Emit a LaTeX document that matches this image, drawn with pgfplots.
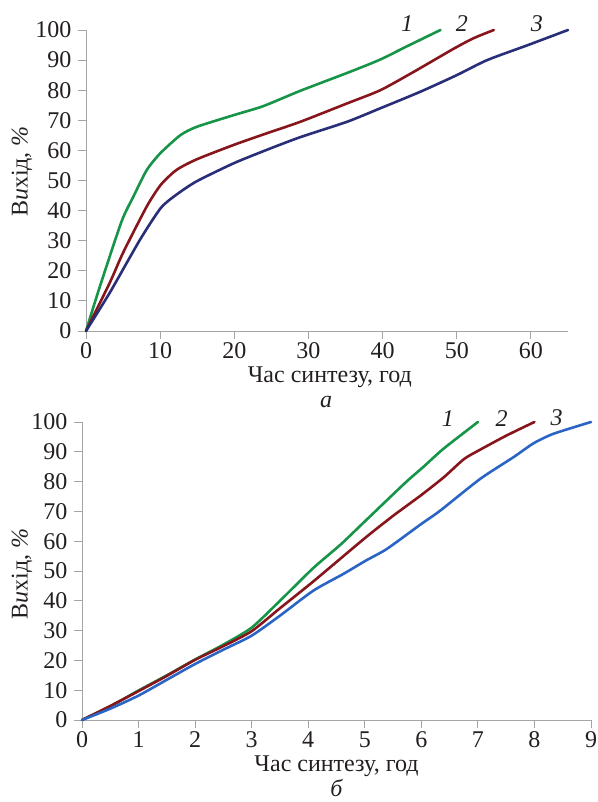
\documentclass[border=0pt]{standalone}
\usepackage{fontspec}
\setmainfont{Liberation Serif}
\usepackage{pgfplots}
\pgfplotsset{compat=1.18}
\definecolor{cgreen}{RGB}{22,148,72}
\definecolor{cred}{RGB}{135,22,28}
\definecolor{cnavy}{RGB}{40,46,120}
\definecolor{cblue}{RGB}{42,100,196}
\definecolor{axgray}{RGB}{165,165,165}
\definecolor{txt}{RGB}{35,31,32}
\tikzset{
  lbl/.style={font=\fontsize{24}{28}\selectfont, text=txt},
  ilbl/.style={font=\fontsize{24}{28}\selectfont\itshape, text=txt},
}
\pgfplotsset{
  mystyle/.style={
    scale only axis,
    axis x line=bottom, axis y line=left,
    axis line style={-, axgray, line width=0.9pt},
    tick style={axgray, line width=0.9pt},
    tick align=outside,
    major tick length=8pt,
    ymin=0, ymax=100, ytick={0,10,...,100},
    tick label style={font=\fontsize{24}{28}\selectfont, text=txt},
    yticklabel style={xshift=-3pt},
    /pgf/number format/assume math mode=true,
    clip=false,
    every axis plot/.append style={line width=2.6pt, line join=round, line cap=round, smooth, tension=0.4, no markers},
  },
}
\begin{document}
\begin{tikzpicture}
\useasboundingbox (0,0) rectangle (597pt,802pt);
% top panel
\begin{axis}[mystyle,
  at={(86pt,471pt)}, anchor=south west,
  width=482pt, height=301pt,
  xmin=0, xmax=65, xtick={0,10,...,60},
]
\addplot[cgreen] coordinates {(0,0)(1.9,15)(4.8,36.4)(6.4,44.7)(8.2,53.5)(10,59)(12.7,65)(14.9,67.8)(19.9,71.7)(23.9,74.7)(28.9,79.8)(35.6,86.1)(39.7,90.2)(43.3,94.6)(47.8,100)};
\addplot[cred] coordinates {(0,0)(3.2,16)(5,26)(8.2,41.4)(10.1,48.6)(12.2,53.5)(14.9,57)(19.9,61.8)(24.4,65.7)(28.9,69.5)(35.2,75.6)(39.7,80)(44.2,86.1)(49.6,93.8)(52.3,97.3)(55,100)};
\addplot[cnavy] coordinates {(0,0)(3.2,12.7)(7.3,30.4)(10.1,40.9)(12.2,45.3)(14.9,49.7)(19.9,55.7)(24.4,60.2)(28.9,64.4)(35.2,69.5)(39.7,74)(45.1,79.5)(50,85)(54.1,90)(59.5,94.9)(65,100)};
\node[ilbl] at (axis cs:43.3,102) {1};
\node[ilbl] at (axis cs:50.7,102) {2};
\node[ilbl] at (axis cs:60.8,102) {3};
\node[lbl, rotate=90] at (axis description cs:-0.133,0.53) {В\textit{и}хід, \textit{\%}};
\node[lbl] at (axis description cs:0.506,-0.153) {Час синтезу, год};
\node[ilbl] at (axis description cs:0.498,-0.235) {а};
\end{axis}
% bottom panel
\begin{axis}[mystyle,
  at={(82pt,82pt)}, anchor=south west,
  width=509pt, height=298pt,
  xmin=0, xmax=9, xtick={0,1,...,9},
]
\addplot[cgreen] coordinates {(0,0)(0.5,4.6)(1,9.9)(1.5,15)(2,20.3)(2.5,25.3)(3,31)(3.5,40)(4.09,51)(4.58,59)(5.02,67)(5.71,79.5)(6.04,85)(6.39,91)(7,100)};
\addplot[cred] coordinates {(0,0)(0.5,4.7)(1,9.7)(1.5,14.8)(2,20.2)(2.5,24.8)(3,29.8)(3.5,37.5)(4.09,46.5)(5,61)(5.5,68.5)(6,75.5)(6.4,81.5)(6.75,87.5)(7,90.3)(7.5,95.4)(8,100)};
\addplot[cblue] coordinates {(0,0)(0.5,3.8)(1,8.2)(1.5,13.5)(2,18.8)(2.5,23.6)(3,28.3)(3.5,35)(4.09,43.4)(4.62,49)(5.02,53.5)(5.39,57.4)(6,65.8)(6.33,70.2)(7.04,80.9)(7.63,88.2)(7.98,92.8)(8.33,96)(9,100)};
\node[ilbl] at (axis cs:6.47,101) {1};
\node[ilbl] at (axis cs:7.42,101) {2};
\node[ilbl] at (axis cs:8.39,101.5) {3};
\node[lbl, rotate=90] at (axis description cs:-0.118,0.49) {В\textit{и}хід, \textit{\%}};
\node[lbl, inner sep=0pt] at (axis description cs:0.5,-0.155) {Час синтезу, год};
\node[ilbl, inner sep=0pt] at (axis description cs:0.5,-0.228) {б};
\end{axis}
\end{tikzpicture}
\end{document}
